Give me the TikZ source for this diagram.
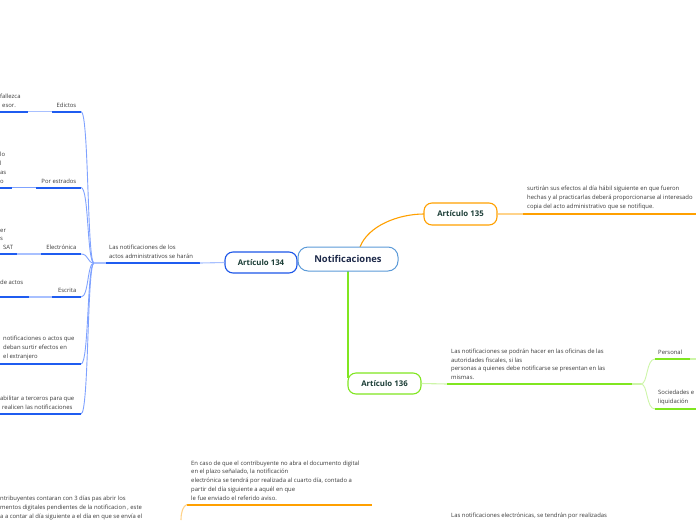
\documentclass[tikz,border=0pt]{standalone}
\usepackage{fontspec}
\setmainfont{Open Sans}
\definecolor{blueT}{HTML}{1F5CF0}
\definecolor{blueL}{HTML}{A8C0FF}
\definecolor{blueC}{HTML}{7FA2FF}
\definecolor{blueB}{HTML}{1C56E8}
\definecolor{rootB}{HTML}{5B9AD8}
\definecolor{orT}{HTML}{FFA000}
\definecolor{orL}{HTML}{FFD38A}
\definecolor{grT}{HTML}{80E620}
\definecolor{grL}{HTML}{CDF5A8}
\definecolor{txt}{HTML}{3A3A3A}
\definecolor{ttl}{HTML}{1B3D36}
\definecolor{rootT}{HTML}{1E2A4A}
\tikzset{
  small/.style={font=\fontsize{5.9}{8.8}\selectfont, text=txt, inner sep=0pt, align=left},
  topic/.style={draw, rounded corners=8pt, line width=1.1pt, minimum width=72pt, minimum height=21pt, inner sep=0pt, font=\fontsize{7.8}{9}\selectfont\bfseries, text=ttl, fill=white},
  thickline/.style={line width=2pt},
  thinline/.style={line width=1.1pt},
}
\begin{document}
\begin{tikzpicture}[x=1pt,y=-1pt]
\useasboundingbox (0,0) rectangle (696,520);
\clip (0,0) rectangle (696,520);

% ---------- Article 134 (left, blue) ----------
\coordinate (j134) at (94,263);
\coordinate (u134a) at (106,263);
\coordinate (u134b) at (200,263);
\node[small, anchor=south west] (t134) at (109,259) {Las notificaciones de los\\actos administrativos se harán};

% Edictos
\coordinate (eA) at (52,111.5); \coordinate (eB) at (81,111.5);
\coordinate (elA) at (0,111.5); \coordinate (elB) at (28,111.5);
\node[small, anchor=south east] (le) at (76.5,107.5) {Edictos};
\node[small, anchor=south west] (tle) at (0,107.5) {fallezca\\\hspace{2pt}esor.};
% Por estrados
\coordinate (pA) at (36,187.5); \coordinate (pB) at (81,187.5);
\coordinate (plA) at (0,187.5); \coordinate (plB) at (12,187.5);
\node[small, anchor=south east] (lp) at (76.5,183.5) {Por estrados};
\node[small, anchor=south west] (tlp) at (0,183.5) {lo\\l\\as\\o};
% Electronica
\coordinate (cA) at (41,254); \coordinate (cB) at (81,254);
\coordinate (clA) at (0,254); \coordinate (clB) at (17,254);
\node[small, anchor=south east] (lc) at (76.5,250) {Electrónica};
\node[small, anchor=south west] (tlc) at (0,250) {er\\s\\\hspace{3pt}SAT};
% Escrita
\coordinate (sA) at (52,297); \coordinate (sB) at (81,297);
\coordinate (slA) at (0,297); \coordinate (slB) at (29,297);
\node[small, anchor=south east] (ls) at (76.5,293) {Escrita};
\node[small, anchor=south west] (tls) at (0,284.5) {de actos};
% Extranjero
\coordinate (xA) at (0,364); \coordinate (xB) at (81,364);
\node[small, anchor=south west] (tlx) at (3,360) {notificaciones o actos que\\deban surtir efectos en\\el extranjero};
% Terceros
\coordinate (hA) at (0,414); \coordinate (hB) at (81,414);
\node[small, anchor=south west] (tlh) at (0,410) {abilitar a terceros para que\\\hspace{2pt}realicen las notificaciones};

% curves from junction
\foreach \e in {eB,pB,cB,sB,xB,hB}{
  \draw[blueC, line width=0.9pt] (j134) .. controls (87,263) and (89,0|-\e) .. (\e);
}
\draw[blueL, thinline] (j134) -- (u134a);
% underlines
\draw[blueT, thickline] (u134a) -- (u134b);
\draw[blueT, thickline] (eA) -- (eB);
\draw[blueT, thickline] (elA) -- (elB);
\draw[blueL, thinline] (elB) -- (eA);
\draw[blueT, thickline] (pA) -- (pB);
\draw[blueT, thickline] (plA) -- (plB);
\draw[blueC, thinline] (plB) -- (pA);
\draw[blueT, thickline] (cA) -- (cB);
\draw[blueT, thickline] (clA) -- (clB);
\draw[blueL, thinline] (clB) -- (cA);
\draw[blueT, thickline] (sA) -- (sB);
\draw[blueT, thickline] (slA) -- (slB);
\draw[blueL, thinline] (slB) -- (sA);
\draw[blueT, thickline] (xA) -- (xB);
\draw[blueT, thickline] (hA) -- (hB);

% ---------- Central + articles ----------
\node[topic, draw=blueB, minimum width=72pt, minimum height=21pt] (a134) at (261,262.5) {Artículo 134};
\draw[blueL, thinline] (a134.west) -- (u134b);

\coordinate (r135) at (360,247);
\coordinate (r136) at (348,271);
\draw[orT, line width=1.1pt] (r135) .. controls (368,226) and (398,214) .. (424,214);
\draw[grT, line width=1.6pt] (r136) -- (348,378);

\node[topic, draw=rootB, line width=1pt, minimum width=100pt, minimum height=24pt, rounded corners=10pt, font=\fontsize{9.4}{11}\selectfont\bfseries, text=rootT] (root) at (348,259) {Notificaciones};

\node[topic, draw=orT, minimum width=73pt, minimum height=22pt] (a135) at (460.5,214) {Artículo 135};
\node[topic, draw=grT, minimum width=73pt, minimum height=21pt] (a136) at (384.5,383.5) {Artículo 136};

% Article 135 text
\coordinate (o1) at (523,214); \coordinate (o2) at (696,214);
\draw[orL, thinline] (a135.east) -- (o1);
\draw[orT, thickline] (o1) -- (o2);
\node[small, anchor=south west] (t135) at (527,210) {surtirán sus efectos al día hábil siguiente en que fueron\\hechas y al practicarlas deberá proporcionarse al interesado\\copia del acto administrativo que se notifique.};

% Article 136 text
\coordinate (g1) at (447,384); \coordinate (g2) at (632,384);
\coordinate (gj) at (641,384);
\draw[grL, thinline] (a136.east) -- (g1);
\draw[grT, thickline] (g1) -- (g2);
\draw[grL, thinline] (g2) -- (gj);
\node[small, anchor=south west] (t136) at (451,380) {Las notificaciones se podrán hacer en las oficinas de las\\autoridades fiscales, si las\\personas a quienes debe notificarse se presentan en las\\mismas.};

\coordinate (pe1) at (655,359); \coordinate (pe2) at (690,359); \coordinate (pe3) at (696,359);
\coordinate (so1) at (655,409); \coordinate (so2) at (696,409);
\draw[grL, line width=0.9pt] (gj) .. controls (648,384) and (646,359) .. (pe1);
\draw[grL, line width=0.9pt] (gj) .. controls (648,384) and (646,409) .. (so1);
\draw[grT, thickline] (pe1) -- (pe2);
\draw[grL, thinline] (pe2) -- (pe3);
\draw[grT, thickline] (so1) -- (so2);
\node[small, anchor=south west] (lpe) at (658,355) {Personal};
\node[small, anchor=south west] (lso) at (658,405) {Sociedades e\\liquidación};

% ---------- Bottom ----------
\coordinate (b1) at (187,504.5); \coordinate (b2) at (372,504.5);
\coordinate (b3) at (181,520);
\draw[orT, thickline] (b1) -- (b2);
\draw[orL, thinline] (b1) .. controls (183,506) and (181,512) .. (b3);
\node[small, anchor=south west] (tb) at (191,500.5) {En caso de que el contribuyente no abra el documento digital\\en el plazo señalado, la notificación\\electrónica se tendrá por realizada al cuarto día, contado a\\partir del día siguiente a aquél en que\\le fue enviado el referido aviso.};
\node[small, anchor=north west] (tbl) at (0,496) {ntribuyentes contaran con 3 días pas abrir los\\mentos digitales pendientes de la notificacion , este\\a a contar al día siguiente a el día en que se envía el};
\node[small, anchor=north west] (tbr) at (451,512.5) {Las notificaciones electrónicas, se tendrán por realizadas};
\end{tikzpicture}
\end{document}
